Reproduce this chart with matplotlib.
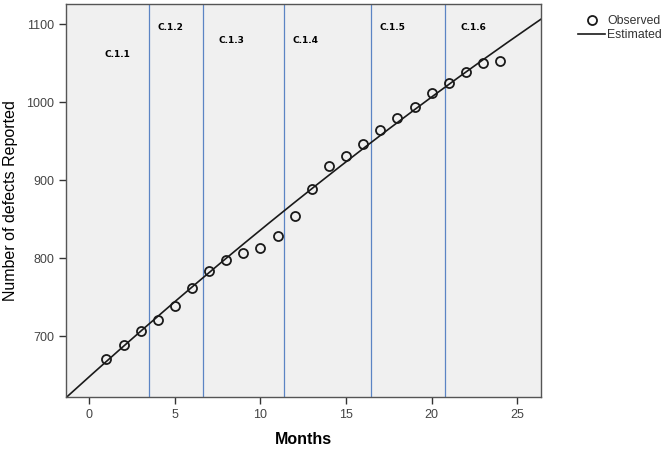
import numpy as np
import matplotlib.pyplot as plt

plt.rcParams['font.family'] = ['Liberation Sans', 'DejaVu Sans']

# monthly defect counts
months = np.arange(1, 25)
observed = [671, 689, 707, 721, 739, 762, 783, 797, 806, 813, 828, 854,
            888, 918, 931, 946, 964, 979, 994, 1011, 1024, 1038, 1050, 1053]

# quadratic trend: a + b*t + c*t^2
est_coef = [648.0, 19.68, -0.0876]

# phase boundaries and phase labels
boundaries = [3.5, 6.65, 11.35, 16.45, 20.75]
phase_names = ['C.1.1', 'C.1.2', 'C.1.3', 'C.1.4', 'C.1.5', 'C.1.6']
phase_x = [1.62, 4.77, 8.32, 12.64, 17.7, 22.43]
phase_y = [1061, 1096, 1079, 1079, 1096, 1096]

fig = plt.figure(figsize=(6.65, 4.5), dpi=100)
ax = fig.add_axes([0.0992, 0.1178, 0.7143, 0.8732])
ax.set_facecolor('#f0f0f0')

xmin, xmax = -1.36, 26.38
ax.set_xlim(xmin, xmax)
ax.set_ylim(622, 1125.6)

for b in boundaries:
    ax.axvline(b, color='#5b84c4', lw=0.9, zorder=1)

xx = np.linspace(xmin, xmax, 200)
yy = est_coef[0] + est_coef[1] * xx + est_coef[2] * xx ** 2
ax.plot(xx, yy, color='#1a1a1a', lw=1.2, label='Estimated', zorder=2)
ax.plot(months, observed, 'o', ms=6.5, mfc='none', mec='#1a1a1a', mew=1.3,
        label='Observed', zorder=3)

for name, px, py in zip(phase_names, phase_x, phase_y):
    ax.text(px, py, name, ha='center', va='center', fontsize=6.5,
            fontweight='bold', family='DejaVu Sans')

ax.set_xticks([0, 5, 10, 15, 20, 25])
ax.set_yticks([700, 800, 900, 1000, 1100])
ax.tick_params(direction='out', length=5, width=1, colors='#333333',
               labelsize=9, labelcolor='#444444')
for s in ax.spines.values():
    s.set_color('#555555')
    s.set_linewidth(1)

ax.set_xlabel('Months', fontsize=11.5, fontweight='bold', labelpad=8)
ax.set_ylabel('Number of defects Reported', fontsize=11.5, labelpad=6)

handles, labels = ax.get_legend_handles_labels()
leg = fig.legend(handles[::-1], labels[::-1], loc='upper left',
                 bbox_to_anchor=(0.857, 0.985), frameon=False, fontsize=8.8,
                 handlelength=2.2, handletextpad=0.15, labelspacing=0.15,
                 borderaxespad=0.3)
for t in leg.get_texts():
    t.set_color('#333333')

fig.savefig('out.png', dpi=100)
